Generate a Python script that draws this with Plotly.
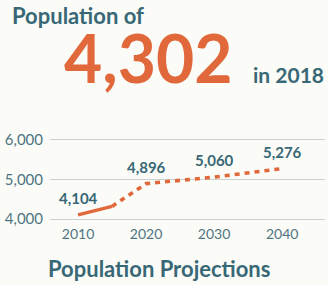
import plotly.graph_objects as go

# ---- data ----
years_actual = [2010, 2015]
pop_actual = [4104, 4320]
years_proj = [2015, 2020, 2030, 2040]
pop_proj = [4320, 4896, 5060, 5276]
label_years = [2010, 2020, 2030, 2040]
label_values = [4104, 4896, 5060, 5276]
x_ticks = [2010, 2020, 2030, 2040]
y_ticks = [4000, 5000, 6000]
headline_value = "4,302"
headline_year = "in 2018"

ORANGE = "#e0683b"
TEAL = "#386876"
TICK = "#4f7482"
BG = "#fbfcf8"
FONT = "Lato"

W, H = 328, 285
# 4000 at y=218.7, 6000 at y=140 -> 39.35 px per 1000
Y0, Y1 = 3950, 6050
ppu = (218.7 - 140) / 2000
T = 140 - (Y1 - 6000) * ppu
B = H - (218.7 + (4000 - Y0) * ppu)
L, R = 50, 3
pw, ph = W - L - R, H - T - B


def px(x):
    return (x - L) / pw


def py(y):
    return (H - B - y) / ph


fig = go.Figure()
fig.add_trace(go.Scatter(x=years_actual, y=pop_actual, mode="lines",
                         line=dict(color=ORANGE, width=3.4), hoverinfo="skip"))
fig.add_trace(go.Scatter(x=years_proj, y=pop_proj, mode="lines",
                         line=dict(color=ORANGE, width=3.6, dash="5px,5px"), hoverinfo="skip"))

annotations = []
for yr, v in zip(label_years, label_values):
    annotations.append(dict(x=yr, y=v, xref="x", yref="y", text=f"<b>{v:,}</b>",
                            showarrow=False, yshift=17,
                            font=dict(family=FONT, size=15, color=TEAL)))

annotations += [
    dict(x=px(10), y=py(16), xref="paper", yref="paper", xanchor="left", yanchor="middle",
         text="<b>Population of</b>", showarrow=False,
         font=dict(family=FONT, size=22, color=TEAL)),
    dict(x=px(62), y=py(58), xref="paper", yref="paper", xanchor="left", yanchor="middle",
         text=f"<b>{headline_value}</b>", showarrow=False,
         font=dict(family=FONT, size=66, color=ORANGE)),
    dict(x=px(251), y=py(75), xref="paper", yref="paper", xanchor="left", yanchor="middle",
         text=f"<b>{headline_year}</b>", showarrow=False,
         font=dict(family=FONT, size=21, color=TEAL)),
    dict(x=px(159), y=py(268), xref="paper", yref="paper", xanchor="center", yanchor="middle",
         text="<b>Population Projections</b>", showarrow=False,
         font=dict(family=FONT, size=22, color=TEAL)),
]

fig.update_layout(
    width=W, height=H,
    margin=dict(l=L, r=R, t=T, b=B, pad=0),
    paper_bgcolor=BG, plot_bgcolor=BG,
    showlegend=False,
    annotations=annotations,
    xaxis=dict(range=[2005.88, 2046.3], tickvals=x_ticks, showgrid=False, zeroline=False,
               showline=False, ticks="", tickfont=dict(family=FONT, size=14, color=TICK),
               ticklabelstandoff=3, fixedrange=True),
    yaxis=dict(range=[Y0, Y1], tickvals=y_ticks, tickformat=",", showgrid=True,
               gridcolor="#c9d1d1", gridwidth=1, zeroline=False, showline=False, ticks="",
               tickfont=dict(family=FONT, size=15, color=TICK), ticklabelstandoff=6,
               fixedrange=True),
)

fig.write_html("out.html", config={"displayModeBar": False},
               post_script="document.body.style.margin='0';document.body.style.background='%s';" % BG)
